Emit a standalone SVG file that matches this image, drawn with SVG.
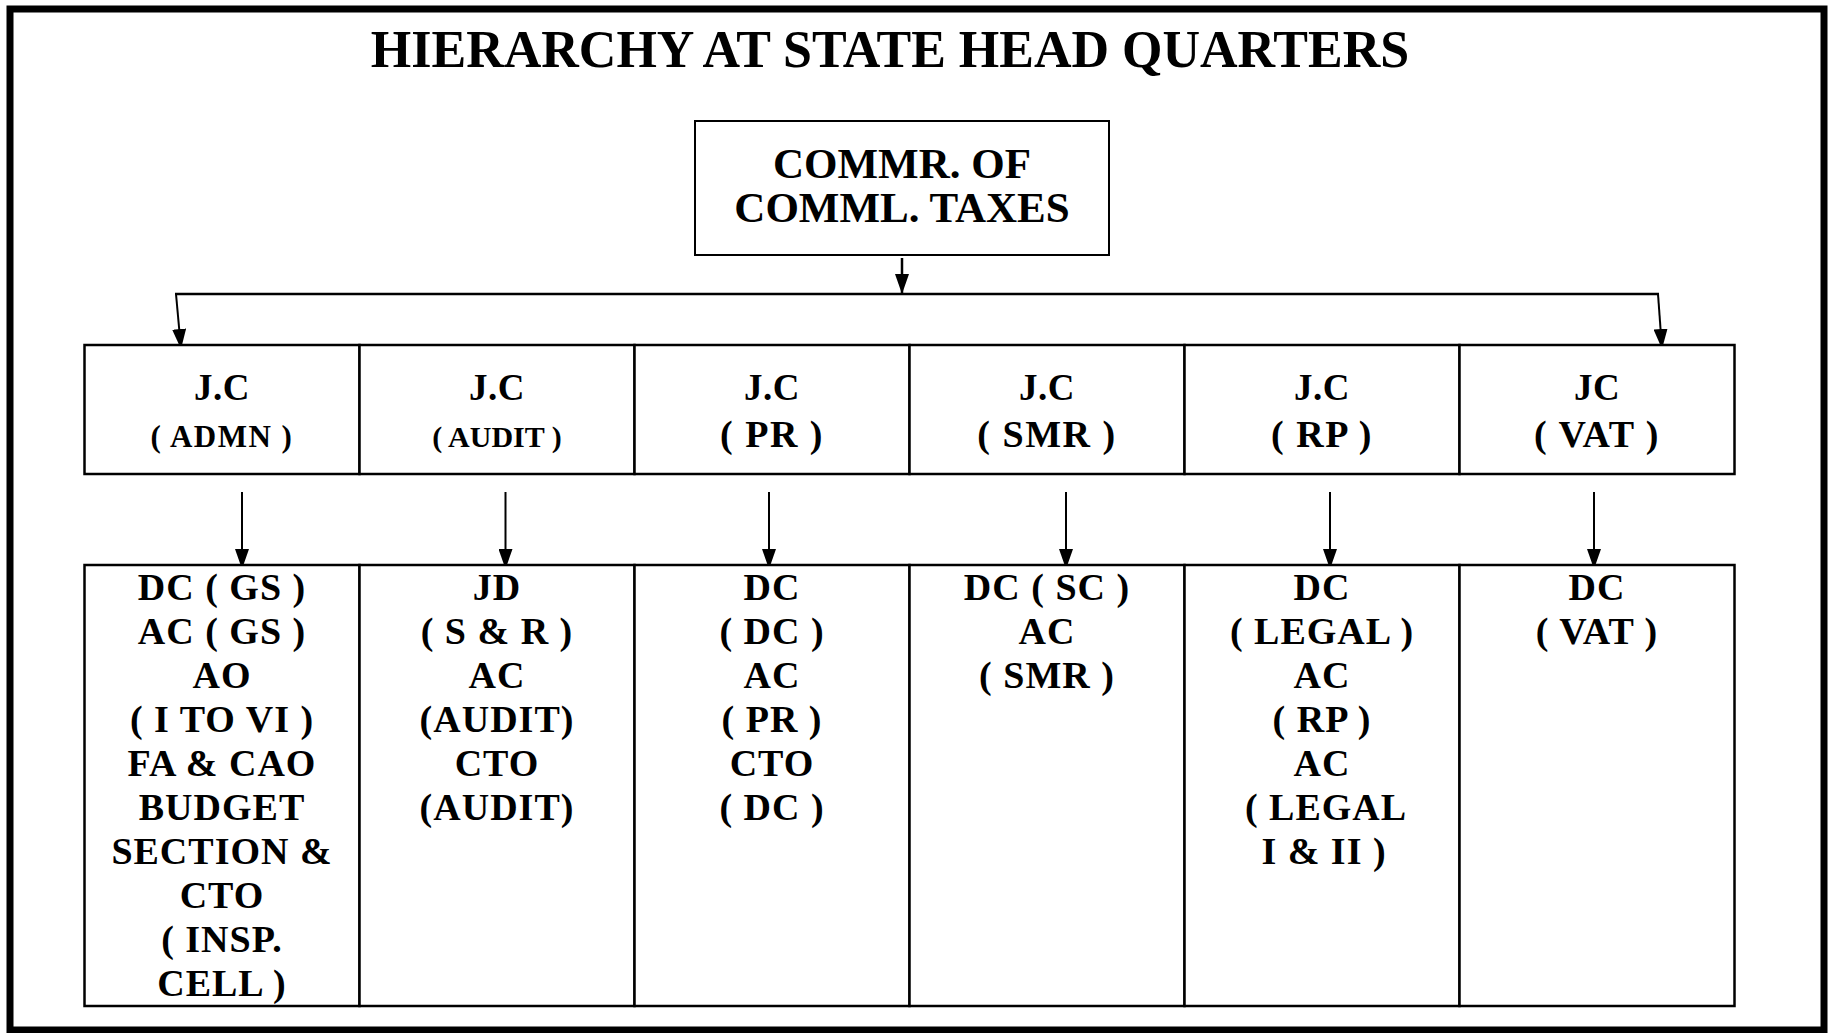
<svg xmlns="http://www.w3.org/2000/svg" width="1835" height="1033" viewBox="0 0 1835 1033">
<style>
.t{font-family:"Liberation Serif","Times New Roman",serif;font-weight:bold;fill:#000;text-anchor:middle}
.cell{fill:#fff;stroke:#000;stroke-width:2.5}
.con{fill:none;stroke:#000;stroke-width:2.5}
.ar{fill:none;stroke:#000;stroke-width:2}
.h1{font-size:37px;letter-spacing:0.5px}
.h2s{font-size:30px}
.h2w{font-size:31px;letter-spacing:1.5px}
.h2{font-size:38px;letter-spacing:1.5px}
.b{font-size:38px;letter-spacing:1px}
</style>
<defs>
<marker id="ah" markerUnits="userSpaceOnUse" viewBox="0 0 20 14" markerWidth="20" markerHeight="14" refX="20" refY="7" orient="auto">
<path d="M0,0 L20,7 L0,14 z" fill="#000"/>
</marker>
</defs>
<rect x="0" y="0" width="1835" height="1033" fill="#fff"/>
<rect x="10" y="9" width="1814" height="1021" fill="none" stroke="#000" stroke-width="7"/>
<text class="t" x="890" y="67" font-size="52">HIERARCHY AT STATE HEAD QUARTERS</text>

<g id="commr">
<rect x="695" y="121" width="414" height="134" fill="#fff" stroke="#000" stroke-width="2"/>
<text class="t" x="902" y="178" font-size="43">COMMR. OF</text>
<text class="t" x="902" y="222" font-size="43">COMML. TAXES</text>
</g>

<g id="connectors">
<line class="con" x1="902" y1="258" x2="902" y2="294" marker-end="url(#ah)"/>
<line class="con" x1="175" y1="294" x2="1659" y2="294"/>
<line class="ar" x1="176" y1="294" x2="181" y2="349" marker-end="url(#ah)"/>
<line class="ar" x1="1658" y1="294" x2="1662" y2="349" marker-end="url(#ah)"/>
<line class="ar" x1="242" y1="492" x2="242" y2="569" marker-end="url(#ah)"/>
<line class="ar" x1="505.5" y1="492" x2="505.5" y2="569" marker-end="url(#ah)"/>
<line class="ar" x1="769" y1="492" x2="769" y2="569" marker-end="url(#ah)"/>
<line class="ar" x1="1066" y1="492" x2="1066" y2="569" marker-end="url(#ah)"/>
<line class="ar" x1="1330" y1="492" x2="1330" y2="569" marker-end="url(#ah)"/>
<line class="ar" x1="1594" y1="492" x2="1594" y2="569" marker-end="url(#ah)"/>
</g>

<g id="jc-admn">
<rect class="cell" x="84.5" y="345" width="275" height="129"/>
<text class="t h1" x="222" y="400">J.C</text>
<text class="t h2w" x="222" y="447">( ADMN )</text>
</g>
<g id="jc-audit">
<rect class="cell" x="359.5" y="345" width="275" height="129"/>
<text class="t h1" x="497" y="400">J.C</text>
<text class="t h2s" x="497" y="447">( AUDIT )</text>
</g>
<g id="jc-pr">
<rect class="cell" x="634.5" y="345" width="275" height="129"/>
<text class="t h1" x="772" y="400">J.C</text>
<text class="t h2" x="772" y="447">( PR )</text>
</g>
<g id="jc-smr">
<rect class="cell" x="909.5" y="345" width="275" height="129"/>
<text class="t h1" x="1047" y="400">J.C</text>
<text class="t h2" x="1047" y="447">( SMR )</text>
</g>
<g id="jc-rp">
<rect class="cell" x="1184.5" y="345" width="275" height="129"/>
<text class="t h1" x="1322" y="400">J.C</text>
<text class="t h2" x="1322" y="447">( RP )</text>
</g>
<g id="jc-vat">
<rect class="cell" x="1459.5" y="345" width="275" height="129"/>
<text class="t h1" x="1597" y="400">JC</text>
<text class="t h2" x="1597" y="447">( VAT )</text>
</g>

<g id="sub-admn">
<rect class="cell" x="84.5" y="565" width="275" height="441"/>
<text class="t b" x="222" y="600">DC ( GS )</text>
<text class="t b" x="222" y="644">AC ( GS )</text>
<text class="t b" x="222" y="688">AO</text>
<text class="t b" x="222" y="732">( I TO VI )</text>
<text class="t b" x="222" y="776">FA &amp; CAO</text>
<text class="t b" x="222" y="820">BUDGET</text>
<text class="t b" x="222" y="864">SECTION &amp;</text>
<text class="t b" x="222" y="908">CTO</text>
<text class="t b" x="222" y="952">( INSP.</text>
<text class="t b" x="222" y="996">CELL )</text>
</g>
<g id="sub-audit">
<rect class="cell" x="359.5" y="565" width="275" height="441"/>
<text class="t b" x="497" y="600">JD</text>
<text class="t b" x="497" y="644">( S &amp; R )</text>
<text class="t b" x="497" y="688">AC</text>
<text class="t b" x="497" y="732">(AUDIT)</text>
<text class="t b" x="497" y="776">CTO</text>
<text class="t b" x="497" y="820">(AUDIT)</text>
</g>
<g id="sub-pr">
<rect class="cell" x="634.5" y="565" width="275" height="441"/>
<text class="t b" x="772" y="600">DC</text>
<text class="t b" x="772" y="644">( DC )</text>
<text class="t b" x="772" y="688">AC</text>
<text class="t b" x="772" y="732">( PR )</text>
<text class="t b" x="772" y="776">CTO</text>
<text class="t b" x="772" y="820">( DC )</text>
</g>
<g id="sub-smr">
<rect class="cell" x="909.5" y="565" width="275" height="441"/>
<text class="t b" x="1047" y="600">DC ( SC )</text>
<text class="t b" x="1047" y="644">AC</text>
<text class="t b" x="1047" y="688">( SMR )</text>
</g>
<g id="sub-rp">
<rect class="cell" x="1184.5" y="565" width="275" height="441"/>
<text class="t b" x="1322" y="600">DC</text>
<text class="t b" x="1322" y="644">( LEGAL )</text>
<text class="t b" x="1322" y="688">AC</text>
<text class="t b" x="1322" y="732">( RP )</text>
<text class="t b" x="1322" y="776">AC</text>
<text class="t b" x="1326" y="820">( LEGAL</text>
<text class="t b" x="1324" y="864">I &amp; II )</text>
</g>
<g id="sub-vat">
<rect class="cell" x="1459.5" y="565" width="275" height="441"/>
<text class="t b" x="1597" y="600">DC</text>
<text class="t b" x="1597" y="644">( VAT )</text>
</g>
</svg>
